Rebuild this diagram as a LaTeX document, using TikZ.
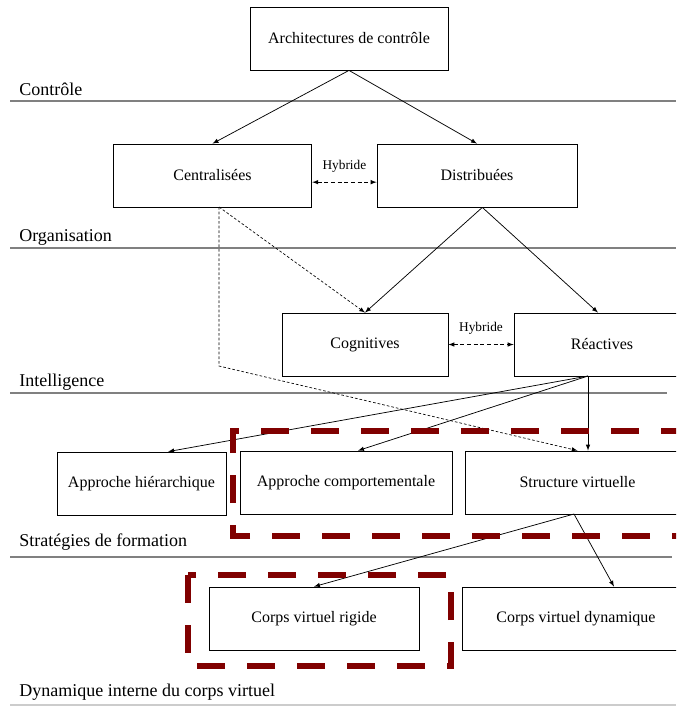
\documentclass[tikz,border=0pt]{standalone}
\usepackage{fontspec}
\setmainfont{Liberation Serif}
\usetikzlibrary{arrows}

\definecolor{darkred}{RGB}{128,0,0}
\tikzset{
	box/.style={draw=black, line width=0.6pt, rectangle, minimum height=47.25pt, inner sep=0pt, font=\fontsize{12}{14}\selectfont},
	level/.style={anchor=base west, inner sep=0pt, font=\fontsize{13.5}{15}\selectfont},
	rule/.style={draw=gray, line width=0.8pt},
	link/.style={-latex, line width=0.55pt},
	hyb/.style={latex-latex, line width=0.55pt, dash pattern={on 3pt off 2pt}},
	dotlink/.style={-latex, line width=0.5pt, dash pattern={on 2pt off 1.5pt}},
	zone/.style={draw=darkred, line width=4.5pt, dash pattern={on 21pt off 16.5pt}}
}

\begin{document}
\begin{tikzpicture}[x=0.75pt, y=-0.75pt]
	\clip (0,0) rectangle (676,707);

	%boxes
	\node[box, minimum width=148.5pt] (archi) at (349,38.5) {Architectures de contrôle};
	\node[box, minimum width=149pt] (centr) at (212.5,175.5) {Centralisées};
	\node[box, minimum width=150pt] (distr) at (477,175.5) {Distribuées};
	\node[box, minimum width=124.5pt] (cogn) at (365,344.5) {Cognitives};
	\node[box, minimum width=132pt] (react) at (602,344.5) {Réactives};
	\node[box, minimum width=126.75pt] (hier) at (141.5,483.5) {Approche hiérarchique};
	\node[box, minimum width=159pt] (comp) at (346,482.5) {Approche comportementale};
	\node[box, minimum width=168.75pt] (strv) at (577.5,482.5) {Structure virtuelle};
	\node[box, minimum width=157.5pt] (rigid) at (314,618.5) {Corps virtuel rigide};
	\node[box, minimum width=171pt] (dyna) at (576,618.5) {Corps virtuel dynamique};

	%level labels and rules
	\node[level] (lctrl) at (19,95) {Contrôle};
	\draw[rule] (10,101)--(676,101);
	\node[level] (lorg) at (19,241) {Organisation};
	\draw[rule] (10,248)--(676,248);
	\node[level] (lintel) at (19,386) {Intelligence};
	\draw[rule] (10,393)--(667,393);
	\node[level] (lstrat) at (19,546) {Stratégies de formation};
	\draw[rule] (10,557)--(672,557);
	\node[level] (ldyn) at (19,696) {Dynamique interne du corps virtuel};
	\draw[draw=gray!40, line width=0.8pt] (10,705)--(676,705);

	%arrows
	\draw[link] (archi.south)--(centr.north);
	\draw[link] (archi.south)--(distr.north);
	\draw[hyb] ([yshift=-5pt]centr.east)--([yshift=-5pt]distr.west) node[midway, above=4pt, font=\fontsize{10}{11}\selectfont] (hyb1) {Hybride};
	\draw[link] ([xshift=4pt]distr.south)--(cogn.north);
	\draw[link] ([xshift=4pt]distr.south)--(react.north -| 598,0);
	\draw[hyb] (cogn.east)--(react.west) node[midway, above=4pt, font=\fontsize{10}{11}\selectfont] (hyb2) {Hybride};

	%dashed links from Centralisées
	\coordinate (cfoot) at (219,207);
	\coordinate (bend) at (219,366);
	\draw[dotlink] (cfoot)--(cogn.north);
	\draw[dotlink] (cfoot)--(bend)--(strv.north);

	%from Réactives
	\coordinate (rfoot) at (588,376);
	\draw[link] (rfoot)--([xshift=20pt]hier.north);
	\draw[link] (rfoot)--([xshift=9pt]comp.north);
	\draw[link] (rfoot)--(rfoot |- strv.north);

	%from Structure virtuelle
	\coordinate (sfoot) at (574,514);
	\draw[link] (sfoot)--(rigid.north);
	\draw[link] (sfoot)--([xshift=28.5pt]dyna.north);

	%highlight zones
	\draw[zone] (700,536)--(233,536)--(233,431)--(700,431);
	\draw[zone] (188,575) rectangle (451,666);
\end{tikzpicture}
\end{document}
